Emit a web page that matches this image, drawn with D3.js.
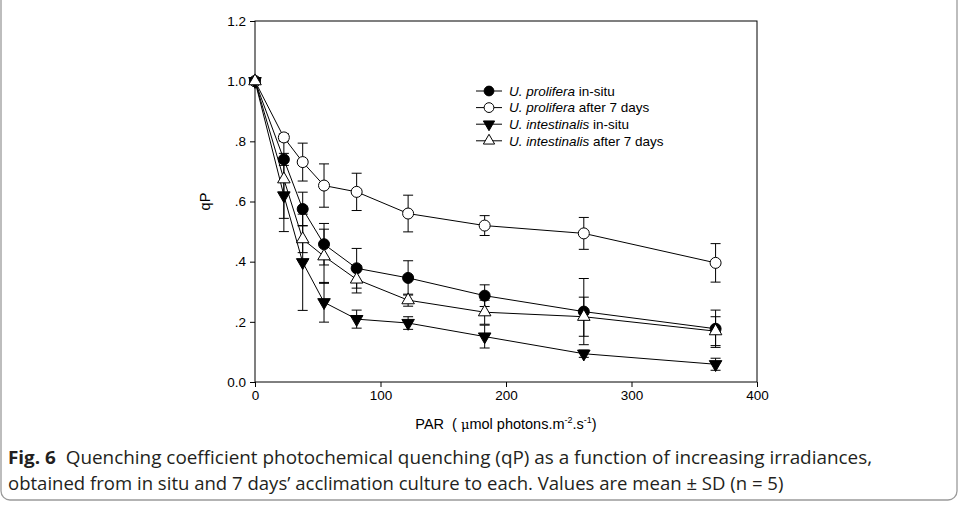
<!DOCTYPE html>
<html>
<head>
<meta charset="utf-8">
<script src="https://d3js.org/d3.v7.min.js"></script>
<style>
  body { margin: 0; background: #fff; }
</style>
</head>
<body>
<div id="my_dataviz"></div>
<script>
// data
const par = [0, 23, 38, 55, 81, 122, 183, 262, 367];
const proliferaInSitu = [1.0, 0.740, 0.575, 0.458, 0.378, 0.346, 0.287, 0.234, 0.177];
const proliferaInSituSD = [0, 0.020, 0.056, 0.069, 0.066, 0.057, 0.036, 0.110, 0.062];
const proliferaAfter7 = [1.0, 0.813, 0.731, 0.653, 0.632, 0.560, 0.520, 0.494, 0.396];
const proliferaAfter7SD = [0, 0.012, 0.063, 0.072, 0.062, 0.061, 0.033, 0.053, 0.064];
const intestinalisInSitu = [1.0, 0.620, 0.398, 0.265, 0.209, 0.196, 0.151, 0.094, 0.059];
const intestinalisInSituSD = [0, 0.120, 0.160, 0.066, 0.030, 0.021, 0.038, 0.012, 0.020];
const intestinalisAfter7 = [1.0, 0.674, 0.475, 0.418, 0.341, 0.272, 0.232, 0.217, 0.169];
const intestinalisAfter7SD = [0, 0.130, 0.045, 0.090, 0.045, 0.020, 0.040, 0.065, 0.048];

const xTicks = [0, 100, 200, 300, 400];
const yTicks = [0, 0.2, 0.4, 0.6, 0.8, 1.0, 1.2];
const yTickLabels = ["0.0", ".2", ".4", ".6", ".8", "1.0", "1.2"];

const series = [
  {species: "U. prolifera", rest: " in-situ", values: proliferaInSitu, sd: proliferaInSituSD, shape: "circle", fill: "#000"},
  {species: "U. prolifera", rest: " after 7 days", values: proliferaAfter7, sd: proliferaAfter7SD, shape: "circle", fill: "#fff"},
  {species: "U. intestinalis", rest: " in-situ", values: intestinalisInSitu, sd: intestinalisInSituSD, shape: "down", fill: "#000"},
  {species: "U. intestinalis", rest: " after 7 days", values: intestinalisAfter7, sd: intestinalisAfter7SD, shape: "up", fill: "#fff"}
];

// set the dimensions and margins of the graph
const W = 959, H = 507;
const margin = {top: 21, right: 202, bottom: 125, left: 255},
  width = W - margin.left - margin.right,
  height = H - margin.top - margin.bottom;

const root = d3.select("#my_dataviz")
.append("svg")
  .attr("width", W)
  .attr("height", H);

// figure frame (rounded box)
root.append("rect")
  .attr("x", 1).attr("y", -12)
  .attr("width", W - 3).attr("height", H + 5)
  .attr("rx", 9)
  .attr("fill", "none")
  .attr("stroke", "#9a9a9a")
  .attr("stroke-width", 1.3);

const svg = root.append("g")
  .attr("transform", `translate(${margin.left},${margin.top})`);

const x = d3.scaleLinear().domain([0, 400]).range([0, width]);
const y = d3.scaleLinear().domain([0, 1.2]).range([height, 0]);

// plot box
svg.append("rect")
  .attr("width", width).attr("height", height)
  .attr("fill", "none").attr("stroke", "#000").attr("stroke-width", 1);

svg.append("g")
  .attr("transform", `translate(0, ${height})`)
  .call(d3.axisBottom(x).tickValues(xTicks).tickSize(5).tickPadding(3))
  .call(g => g.select(".domain").remove())
  .call(g => g.attr("font-family", "Liberation Sans, Arial, sans-serif").attr("font-size", 13.5))
  .selectAll("text").attr("fill", "#000");

svg.append("g")
  .call(d3.axisLeft(y).tickValues(yTicks).tickSize(5).tickPadding(4)
    .tickFormat((d, i) => yTickLabels[i]))
  .call(g => g.select(".domain").remove())
  .call(g => g.attr("font-family", "Liberation Sans, Arial, sans-serif").attr("font-size", 13.5))
  .selectAll("text").attr("fill", "#000");

// axis titles
svg.append("text")
  .attr("transform", `translate(${-45},${height / 2}) rotate(-90)`)
  .attr("text-anchor", "middle")
  .style("font-family", "Liberation Sans, Arial, sans-serif").style("font-size", "14.5px")
  .text("qP");

const xt = svg.append("text")
  .attr("x", width / 2).attr("y", height + 47)
  .attr("text-anchor", "middle")
  .style("font-family", "Liberation Sans, Arial, sans-serif").style("font-size", "14.5px")
  .attr("xml:space", "preserve").style("white-space", "pre");
xt.append("tspan").text("PAR  ( ");
xt.append("tspan").style("font-family", "DejaVu Serif, serif").style("font-size", "13px").text("μ");
xt.append("tspan").text("mol photons.m");
xt.append("tspan").attr("dy", -6).style("font-size", "9px").text("-2");
xt.append("tspan").attr("dy", 6).text(".s");
xt.append("tspan").attr("dy", -6).style("font-size", "9px").text("-1");
xt.append("tspan").attr("dy", 6).text(")");

const line = d3.line()
  .x((d, i) => x(par[i]))
  .y(d => y(d));

const symbolFor = shape => shape === "circle" ? d3.symbol(d3.symbolCircle, 95)
  : d3.symbol(d3.symbolTriangle, 68);

// lines
svg.selectAll(".serie-line")
  .data(series)
  .join("path")
  .attr("d", d => line(d.values))
  .attr("fill", "none")
  .attr("stroke", "#000")
  .attr("stroke-width", 1);

// error bars
series.forEach(s => {
  const eb = svg.append("g");
  s.values.forEach((v, i) => {
    if (!s.sd[i]) return;
    const cx = x(par[i]);
    const y0 = y(v - s.sd[i]), y1 = y(v + s.sd[i]);
    eb.append("line").attr("x1", cx).attr("x2", cx).attr("y1", y0).attr("y2", y1).attr("stroke", "#000");
    [y0, y1].forEach(yy => eb.append("line")
      .attr("x1", cx - 5).attr("x2", cx + 5).attr("y1", yy).attr("y2", yy).attr("stroke", "#000"));
  });
});

// markers
series.forEach(s => {
  svg.append("g").selectAll("path")
    .data(s.values)
    .join("path")
    .attr("d", symbolFor(s.shape))
    .attr("transform", (d, i) => `translate(${x(par[i])},${y(d)})` + (s.shape === "down" ? " rotate(180)" : ""))
    .attr("fill", s.fill)
    .attr("stroke", "#000")
    .attr("stroke-width", 1);
});

// legend
const legend = svg.append("g").attr("transform", `translate(${x(0) + 221},70)`);
series.forEach((s, i) => {
  const row = legend.append("g").attr("transform", `translate(0,${i * 16.6})`);
  row.append("line").attr("x1", 0).attr("x2", 26).attr("stroke", "#000");
  row.append("path").attr("d", s.shape === "circle" ? d3.symbol(d3.symbolCircle, 75)() : d3.symbol(d3.symbolTriangle, 55)())
    .attr("transform", `translate(13,0)` + (s.shape === "down" ? " rotate(180)" : ""))
    .attr("fill", s.fill).attr("stroke", "#000");
  const t = row.append("text").attr("x", 33).attr("dy", "0.35em")
    .style("font-family", "Liberation Sans, Arial, sans-serif").style("font-size", "13.5px");
  t.append("tspan").style("font-style", "italic").text(s.species);
  t.append("tspan").text(s.rest);
});

// caption
const captionLines = [
  [{t: "Fig. 6", b: true}, {t: "  Quenching coefficient photochemical quenching (qP) as a function of increasing irradiances,", b: false}],
  [{t: "obtained from in situ and 7 days\u2019 acclimation culture to each. Values are mean \u00b1 SD (n = 5)", b: false}]
];
const captionWidths = [865, 776];
const captionY = [464, 490];
captionLines.forEach((parts, i) => {
  const t = root.append("text").attr("x", 8).attr("y", captionY[i])
    .style("font-family", "Open Sans, sans-serif").style("font-size", "18.5px").attr("fill", "#231f20")
    .attr("xml:space", "preserve").style("white-space", "pre");
  parts.forEach(p => t.append("tspan").style("font-weight", p.b ? "700" : "400").text(p.t));
  const len = t.node().getComputedTextLength();
  t.attr("transform", `translate(8,0) scale(${captionWidths[i] / len},1) translate(-8,0)`);
});
</script>
</body>
</html>
